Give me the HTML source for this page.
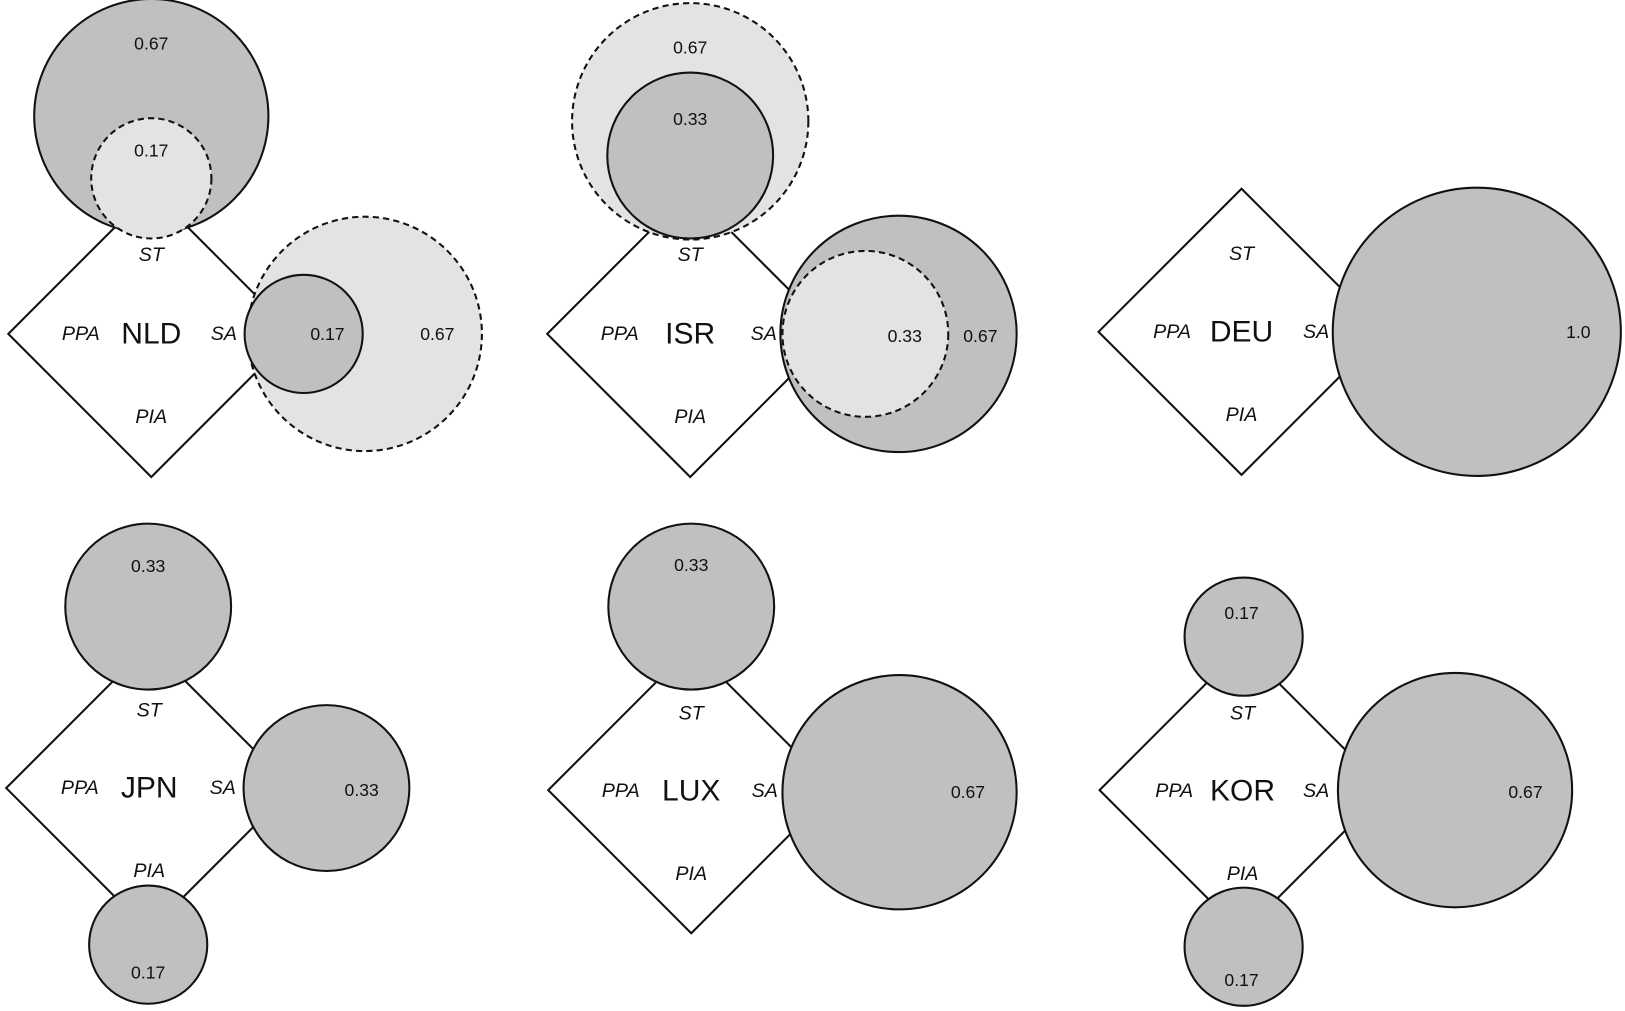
<!DOCTYPE html>
<html><head><meta charset="utf-8"><style>
html,body{margin:0;padding:0;background:#fff;}
svg{display:block;}
text{font-family:"Liberation Sans",sans-serif;dominant-baseline:central;text-anchor:middle;fill:#111;}
.v{font-size:17px;}
.l{font-size:19px;font-style:italic;}
.c{font-size:29px;}
.d{fill:#c0c0c0;stroke:#111;stroke-width:2;}
.lt{fill:#e3e3e3;stroke:#111;stroke-width:2;stroke-dasharray:6,4;}
.dm{fill:#fff;stroke:#111;stroke-width:2;}
</style></head><body>
<svg width="1625" height="1011" viewBox="0 0 1568 975" preserveAspectRatio="none" xmlns="http://www.w3.org/2000/svg">
<!-- NLD -->
<polygon class="dm" points="146,184 284,322 146,460 8,322"/>
<circle class="d" cx="146" cy="112" r="113"/>
<circle class="lt" cx="146" cy="172" r="58"/>
<circle class="lt" cx="352" cy="322" r="113"/>
<circle class="d" cx="293" cy="322" r="57"/>
<text class="v" x="146" y="42">0.67</text><text class="v" x="146" y="145">0.17</text>
<text class="v" x="316" y="322">0.17</text><text class="v" x="422" y="322">0.67</text>
<text class="l" x="146" y="246">ST</text><text class="l" x="78" y="322">PPA</text><text class="c" x="146" y="322">NLD</text><text class="l" x="216" y="322">SA</text><text class="l" x="146" y="402">PIA</text>
<!-- ISR -->
<polygon class="dm" points="666,184 804,322 666,460 528,322"/>
<circle class="lt" cx="666" cy="117" r="114"/>
<circle class="d" cx="666" cy="150" r="80"/>
<circle class="d" cx="867" cy="322" r="114"/>
<circle class="lt" cx="835" cy="322" r="80"/>
<text class="v" x="666" y="46">0.67</text><text class="v" x="666" y="115">0.33</text>
<text class="v" x="873" y="324">0.33</text><text class="v" x="946" y="324">0.67</text>
<text class="l" x="666" y="246">ST</text><text class="l" x="598" y="322">PPA</text><text class="c" x="666" y="322">ISR</text><text class="l" x="737" y="322">SA</text><text class="l" x="666" y="402">PIA</text>
<!-- DEU -->
<polygon class="dm" points="1198,182 1336,320 1198,458 1060,320"/>
<circle class="d" cx="1425" cy="320" r="139"/>
<text class="v" x="1523" y="320">1.0</text>
<text class="l" x="1198" y="245">ST</text><text class="l" x="1131" y="320">PPA</text><text class="c" x="1198" y="320">DEU</text><text class="l" x="1270" y="320">SA</text><text class="l" x="1198" y="400">PIA</text>
<!-- JPN -->
<polygon class="dm" points="144,622 282,760 144,898 6,760"/>
<circle class="d" cx="143" cy="585" r="80"/>
<circle class="d" cx="315" cy="760" r="80"/>
<circle class="d" cx="143" cy="911" r="57"/>
<text class="v" x="143" y="546">0.33</text><text class="v" x="349" y="762">0.33</text><text class="v" x="143" y="938">0.17</text>
<text class="l" x="144" y="685">ST</text><text class="l" x="77" y="760">PPA</text><text class="c" x="144" y="760">JPN</text><text class="l" x="215" y="760">SA</text><text class="l" x="144" y="840">PIA</text>
<!-- LUX -->
<polygon class="dm" points="667,624 805,762 667,900 529,762"/>
<circle class="d" cx="667" cy="585" r="80"/>
<circle class="d" cx="868" cy="764" r="113"/>
<text class="v" x="667" y="545">0.33</text><text class="v" x="934" y="764">0.67</text>
<text class="l" x="667" y="688">ST</text><text class="l" x="599" y="763">PPA</text><text class="c" x="667" y="763">LUX</text><text class="l" x="738" y="763">SA</text><text class="l" x="667" y="843">PIA</text>
<!-- KOR -->
<polygon class="dm" points="1199,624 1337,762 1199,900 1061,762"/>
<circle class="d" cx="1200" cy="614" r="57"/>
<circle class="d" cx="1404" cy="762" r="113"/>
<circle class="d" cx="1200" cy="913" r="57"/>
<text class="v" x="1198" y="591">0.17</text><text class="v" x="1472" y="764">0.67</text><text class="v" x="1198" y="945">0.17</text>
<text class="l" x="1199" y="688">ST</text><text class="l" x="1133" y="763">PPA</text><text class="c" x="1199" y="763">KOR</text><text class="l" x="1270" y="763">SA</text><text class="l" x="1199" y="843">PIA</text>
</svg>
</body></html>
